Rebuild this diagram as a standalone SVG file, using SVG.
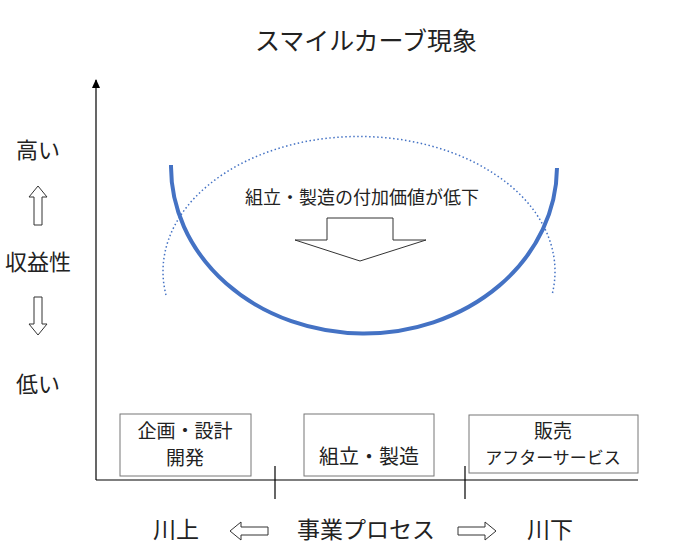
<svg xmlns="http://www.w3.org/2000/svg" width="696" height="560" viewBox="0 0 696 560">
<style>
text{font-family:"Noto Sans CJK JP","Noto Sans CJK SC",sans-serif;fill:#222;text-anchor:middle}
.box{fill:#fff;stroke:#777;stroke-width:1}
.ax{stroke:#000;stroke-width:1.2;fill:none}
.ar{fill:#fff;stroke:#333;stroke-width:1}
</style>
<defs><marker id="ah" markerWidth="9" markerHeight="8" refX="8" refY="4" orient="auto" markerUnits="userSpaceOnUse"><path d="M0,0 L9,4 L0,8 Z" fill="#000"/></marker></defs>
<rect width="696" height="560" fill="#fff"/>
<text x="366" y="50" font-size="25">スマイルカーブ現象</text>
<g id="connectors">
<line class="ax" x1="96" y1="480" x2="96" y2="80" marker-end="url(#ah)"/>
<line class="ax" x1="96" y1="480" x2="638" y2="480"/>
<line class="ax" x1="275" y1="466" x2="275" y2="499"/>
<line class="ax" x1="465" y1="466" x2="465" y2="499"/>
<path d="M166,295 A196,135 0 1 1 552,295" fill="none" stroke="#4472c4" stroke-width="1.5" stroke-dasharray="1.5,2.5"/>
<path d="M171,165 A193,167 0 0 0 557,168" fill="none" stroke="#4472c4" stroke-width="4"/>
</g>
<g id="label"><text x="362" y="204" font-size="18">組立・製造の付加価値が低下</text>
<polygon class="ar" points="295,240 327,240 327,218 393,218 393,240 426,240 360,261"/></g>
<g id="yaxis">
<text x="38" y="158" font-size="22">高い</text>
<polygon class="ar" points="38,186 47,197 42,197 42,225 34,225 34,197 29,197"/>
<text x="38" y="270" font-size="22">収益性</text>
<polygon class="ar" points="38,335 47,324 42,324 42,297 34,297 34,324 29,324"/>
<text x="38" y="392" font-size="22">低い</text>
</g>
<g id="n1"><rect class="box" x="120" y="414" width="131" height="62"/>
<text x="185" y="438" font-size="19">企画・設計</text><text x="185" y="465" font-size="19">開発</text></g>
<g id="n2"><rect class="box" x="304" y="414" width="130" height="62"/>
<text x="369" y="464" font-size="20">組立・製造</text></g>
<g id="n3"><rect class="box" x="469" y="415" width="169" height="58"/>
<text x="553" y="438" font-size="19">販売</text><text x="553" y="464" font-size="17">アフターサービス</text></g>
<g id="xaxis">
<text x="176" y="538" font-size="23">川上</text>
<polygon class="ar" points="230,531 241,522 241,527 268,527 268,535 241,535 241,540"/>
<text x="366" y="538" font-size="23">事業プロセス</text>
<polygon class="ar" points="496,531 485,522 485,527 458,527 458,535 485,535 485,540"/>
<text x="550" y="538" font-size="23">川下</text>
</g>
</svg>
